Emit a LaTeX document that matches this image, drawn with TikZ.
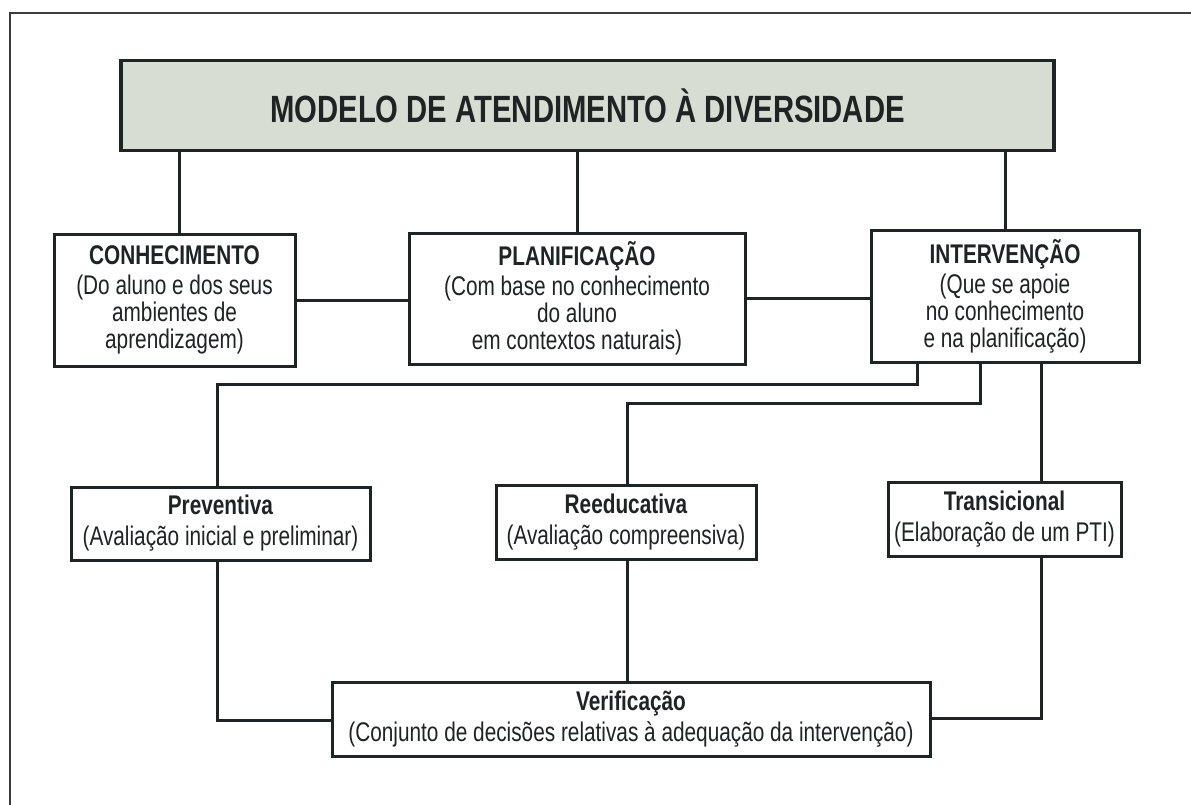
\documentclass[tikz,border=0pt]{standalone}
\usepackage{fontspec}
\setmainfont{Liberation Sans}[FakeStretch=0.77]
\definecolor{ink}{RGB}{30,35,35}
\definecolor{titlefill}{RGB}{216,221,212}
\definecolor{framegray}{RGB}{60,60,60}
\newcommand\bxfont{\fontsize{27}{27}\selectfont}
\newcommand\ttlfont{\fontsize{38}{40}\selectfont\bfseries}
\tikzset{
  box/.style={draw=ink, line width=3pt, fill=white, inner sep=0pt, align=center, text=ink, font=\bxfont},
  titlebox/.style={draw=ink, line width=3.4pt, fill=titlefill, inner sep=0pt, align=center, text=ink, font=\ttlfont},
  conn/.style={draw=ink, line width=3pt},
}
\begin{document}
\begin{tikzpicture}[x=1pt,y=-1pt]
\useasboundingbox (0,0) rectangle (1191,805);
\fill[white] (0,0) rectangle (1191,805);
% outer frame (left and top edges only)
\draw[framegray, line width=1.8pt] (10,805) -- (10,13) -- (1191,13);

% title
\node[titlebox, minimum width=933pt, minimum height=90pt] (title) at (587.5,105.5) {MODELO DE ATENDIMENTO À DIVERSIDADE};

% second row
\node[box, minimum width=241pt, minimum height=132pt] (con) at (174.5,300) {\textbf{CONHECIMENTO}\\[3pt](Do aluno e dos seus\\ambientes de\\aprendizagem)};
\node[box, minimum width=336pt, minimum height=131pt] (plan) at (577,298.5) {\textbf{PLANIFICAÇÃO}\\[3pt](Com base no conhecimento\\do aluno\\em contextos naturais)};
\node[box, minimum width=268pt, minimum height=132pt] (inter) at (1005,296) {\textbf{INTERVENÇÃO}\\[3pt](Que se apoie\\no conhecimento\\e na planificação)};

% third row
\node[box, minimum width=299pt, minimum height=73pt] (prev) at (220.5,523.5) {\textbf{Preventiva}\\[4pt](Avaliação inicial e preliminar)};
\node[box, minimum width=260pt, minimum height=74pt] (reed) at (626,522) {\textbf{Reeducativa}\\[4pt](Avaliação compreensiva)};
\node[box, minimum width=233pt, minimum height=74pt] (trans) at (1004.5,519) {\textbf{Transicional}\\[4pt](Elaboração de um PTI)};

% bottom
\node[box, minimum width=598pt, minimum height=74pt] (verif) at (631,719) {\textbf{Verificação}\\[4pt](Conjunto de decisões relativas à adequação da intervenção)};

% connectors from title
\draw[conn] (title.south -| 179,0) -- (con.north -| 179,0);
\draw[conn] (title.south -| plan.north) -- (plan.north);
\draw[conn] (title.south -| inter.north) -- (inter.north);

% horizontal links of second row
\draw[conn] (con.east) -- (plan.west |- con.east);
\draw[conn] (plan.east) -- (inter.west |- plan.east);

% intervention branches
\coordinate (p1) at (917,384);
\coordinate (p2) at (217,384);
\draw[conn] (inter.south -| p1) -- (p1) -- (p2) -- (prev.north -| p2);
\coordinate (r1) at (980,403);
\coordinate (r2) at (627,403);
\draw[conn] (inter.south -| r1) -- (r1) -- (r2) -- (reed.north -| r2);
\coordinate (t1) at (1041,0);
\draw[conn] (inter.south -| t1) -- (trans.north -| t1);

% to verification
\coordinate (v1) at (217,720);
\draw[conn] (prev.south -| v1) -- (v1) -- (verif.west |- v1);
\draw[conn] (reed.south -| r2) -- (verif.north -| r2);
\coordinate (v2) at (1041,718);
\draw[conn] (trans.south -| v2) -- (v2) -- (verif.east |- v2);
\end{tikzpicture}
\end{document}
